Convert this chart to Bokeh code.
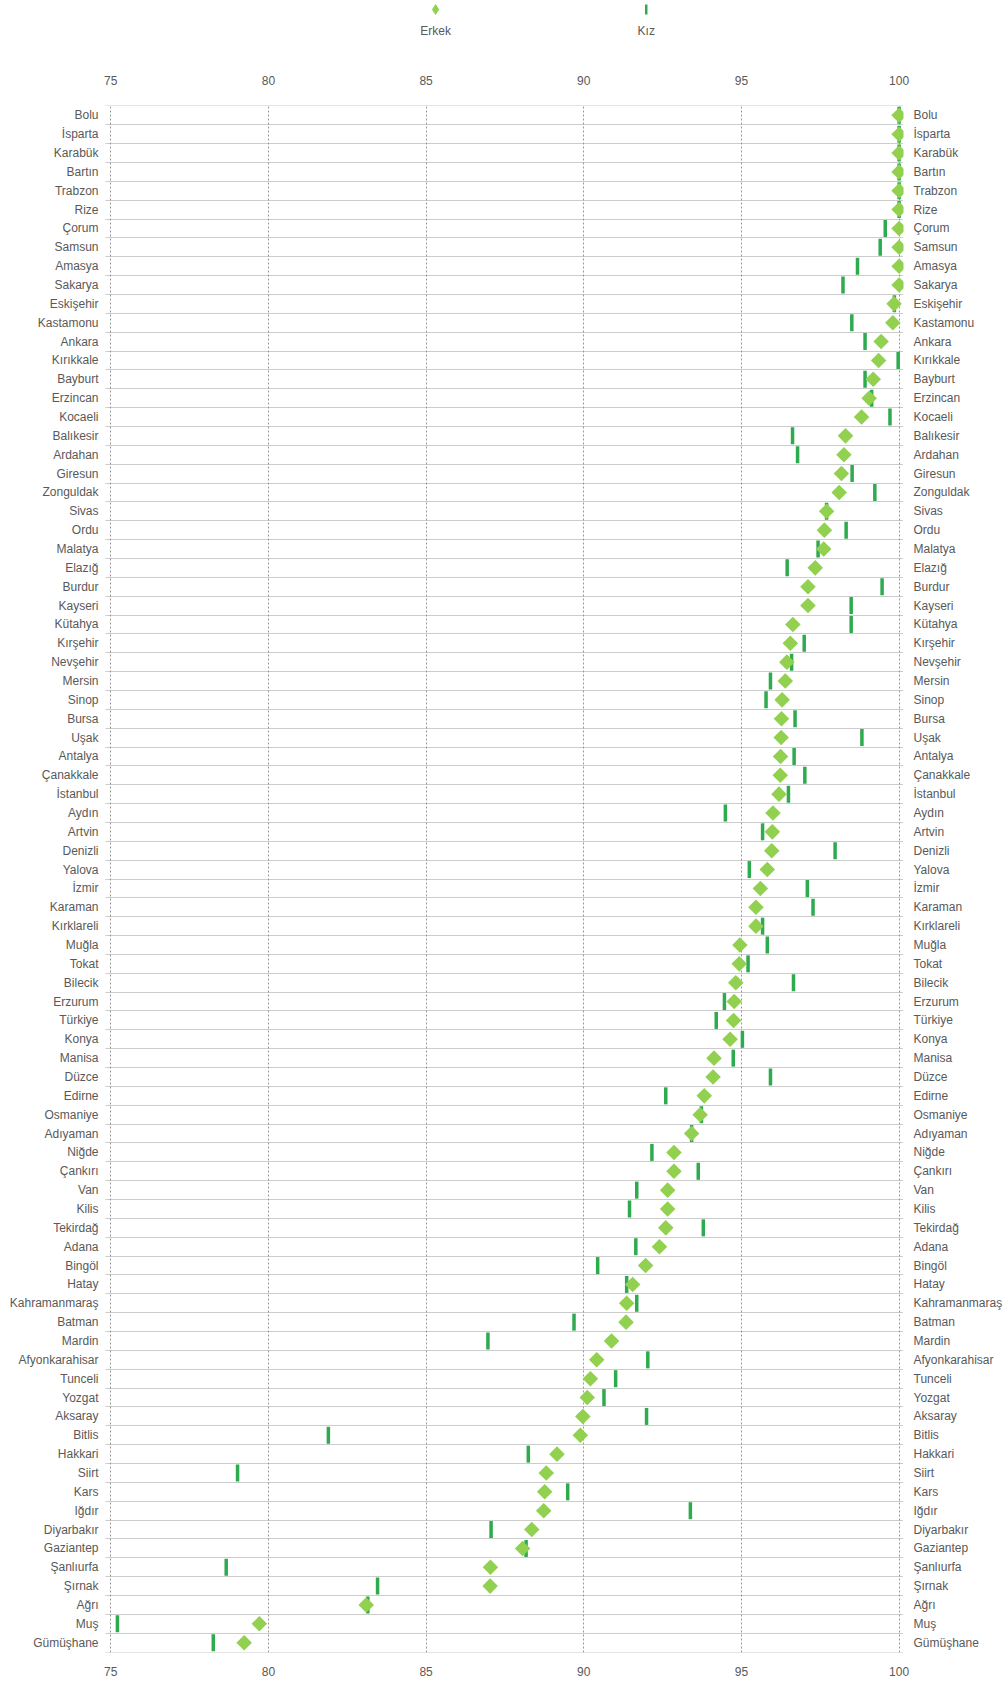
import math
from bokeh.plotting import figure
from bokeh.models import FactorRange, Range1d, LinearAxis, CategoricalAxis, FixedTicker, ColumnDataSource
from bokeh.layouts import column
from bokeh.embed import file_html
from bokeh.resources import INLINE
from bokeh.core.properties import value

provinces = ["Bolu", "İsparta", "Karabük", "Bartın", "Trabzon", "Rize", "Çorum", "Samsun", "Amasya",
             "Sakarya", "Eskişehir", "Kastamonu", "Ankara", "Kırıkkale", "Bayburt", "Erzincan", "Kocaeli",
             "Balıkesir", "Ardahan", "Giresun", "Zonguldak", "Sivas", "Ordu", "Malatya", "Elazığ", "Burdur",
             "Kayseri", "Kütahya", "Kırşehir", "Nevşehir", "Mersin", "Sinop", "Bursa", "Uşak", "Antalya",
             "Çanakkale", "İstanbul", "Aydın", "Artvin", "Denizli", "Yalova", "İzmir", "Karaman", "Kırklareli",
             "Muğla", "Tokat", "Bilecik", "Erzurum", "Türkiye", "Konya", "Manisa", "Düzce", "Edirne",
             "Osmaniye", "Adıyaman", "Niğde", "Çankırı", "Van", "Kilis", "Tekirdağ", "Adana", "Bingöl",
             "Hatay", "Kahramanmaraş", "Batman", "Mardin", "Afyonkarahisar", "Tunceli", "Yozgat", "Aksaray",
             "Bitlis", "Hakkari", "Siirt", "Kars", "Iğdır", "Diyarbakır", "Gaziantep", "Şanlıurfa", "Şırnak",
             "Ağrı", "Muş", "Gümüşhane"]

erkek = [100, 100, 100, 100, 100, 100, 100, 100, 100,
         100, 99.84, 99.80, 99.43, 99.35, 99.18, 99.05, 98.81,
         98.30, 98.25, 98.17, 98.10, 97.70, 97.63, 97.61, 97.34, 97.11,
         97.11, 96.63, 96.55, 96.44, 96.39, 96.29, 96.27, 96.26, 96.24,
         96.23, 96.19, 96.00, 95.98, 95.96, 95.82, 95.60, 95.46, 95.46,
         94.95, 94.93, 94.82, 94.77, 94.75, 94.64, 94.13, 94.10, 93.82,
         93.69, 93.42, 92.86, 92.86, 92.66, 92.66, 92.60, 92.40, 91.96,
         91.55, 91.36, 91.34, 90.88, 90.41, 90.21, 90.11, 89.97,
         89.89, 89.15, 88.81, 88.76, 88.73, 88.35, 88.06, 87.04, 87.03,
         83.10, 79.71, 79.23]

kiz = [100, 100, 100, 100, 100, 100, 99.56, 99.40, 98.68,
       98.22, 99.85, 98.50, 98.92, 99.97, 98.92, 99.13, 99.71,
       96.62, 96.78, 98.51, 99.23, 97.70, 98.32, 97.43, 96.45, 99.46,
       98.48, 98.48, 96.99, 96.59, 95.92, 95.78, 96.70, 98.82, 96.67,
       97.01, 96.49, 94.49, 95.67, 97.97, 95.25, 97.09, 97.27, 95.67,
       95.82, 95.21, 96.65, 94.46, 94.20, 95.03, 94.74, 95.92, 92.60,
       93.73, 93.42, 92.16, 93.63, 91.68, 91.45, 93.79, 91.65, 90.44,
       91.36, 91.68, 89.69, 86.96, 92.03, 91.01, 90.64, 91.99,
       81.90, 88.24, 79.02, 89.49, 93.38, 87.06, 88.17, 78.66, 83.46,
       83.15, 75.21, 78.25]

series_names = ["Erkek", "Kız"]
x_ticks = [75, 80, 85, 90, 95, 100]

# layout constants (legend key positions along the shared x scale, legend rows in px)
LEGEND_X = [85.30, 91.98]
LEGEND_KEY_Y = 9
LEGEND_LABEL_Y = 30

FONT = "'Liberation Sans', Arial, sans-serif"
FS = "12px"
TXT = "#595959"
ERKEK_C = "#92D050"
KIZ_C = "#2EAA4F"
GRID_C = "#999999"

W = 1005
BL, BR = 105, 100

x_range = Range1d(74.832, 100.139)

# ---- legend strip ----
lf = figure(width=W, height=45, x_range=x_range, y_range=Range1d(45, 0),
            output_backend="svg", toolbar_location=None,
            min_border_left=BL, min_border_right=BR, min_border_top=0, min_border_bottom=0)
lf.xaxis.visible = False
lf.yaxis.visible = False
lf.grid.visible = False
lf.outline_line_color = None
lf.scatter(x=[LEGEND_X[0]], y=[LEGEND_KEY_Y], marker="diamond", size=11, fill_color=ERKEK_C, line_color=None)
lf.rect(x=[LEGEND_X[1]], y=[LEGEND_KEY_Y], width=2.5, height=10, width_units="screen", height_units="screen",
        fill_color=KIZ_C, line_color=None)
lf.text(x=LEGEND_X, y=[LEGEND_LABEL_Y] * 2, text=series_names, text_align="center", text_baseline="middle",
        text_font=value(FONT), text_font_size=FS, text_color=TXT)

# ---- main chart ----
src = ColumnDataSource(dict(il=provinces, erkek=erkek, kiz=kiz))

p = figure(width=W, height=1637,
           x_range=x_range,
           y_range=FactorRange(factors=list(reversed(provinces)), range_padding=0.02,
                               range_padding_units="absolute"),
           x_axis_location="above",
           output_backend="svg", toolbar_location=None,
           min_border_left=BL, min_border_right=BR, min_border_top=60, min_border_bottom=30)
p.outline_line_color = None
p.background_fill_color = "white"

bottom_axis = LinearAxis()
p.add_layout(bottom_axis, "below")
right_axis = CategoricalAxis()
p.add_layout(right_axis, "right")

for ax in list(p.xaxis) + list(p.yaxis):
    ax.axis_line_color = None
    ax.major_tick_line_color = None
    ax.minor_tick_line_color = None
    ax.major_tick_out = 0
    ax.major_tick_in = 0
    ax.minor_tick_out = 0
    ax.major_label_text_font = FONT
    ax.major_label_text_font_size = FS
    ax.major_label_text_color = TXT

for ax in p.xaxis:
    ax.ticker = FixedTicker(ticks=x_ticks)
p.xaxis[0].major_label_standoff = 21
bottom_axis.major_label_standoff = 14
p.yaxis[0].major_label_standoff = 7
right_axis.major_label_standoff = 10

p.xgrid.ticker = FixedTicker(ticks=x_ticks)
p.xgrid.grid_line_color = GRID_C
p.xgrid.grid_line_dash = "2 2"
p.ygrid.ticker = FixedTicker(ticks=list(range(0, len(provinces) + 1)))
p.ygrid.grid_line_color = GRID_C
p.ygrid.grid_line_dash = "1 1"

p.rect(x="kiz", y="il", width=3.5, height=17, width_units="screen", height_units="screen",
       fill_color=KIZ_C, line_color=None, source=src)
p.scatter(x="erkek", y="il", marker="square", angle=math.pi / 4, size=11,
          fill_color=ERKEK_C, line_color=None, source=src)

layout = column(lf, p, spacing=0)
open("out.html", "w").write(file_html(layout, INLINE))
